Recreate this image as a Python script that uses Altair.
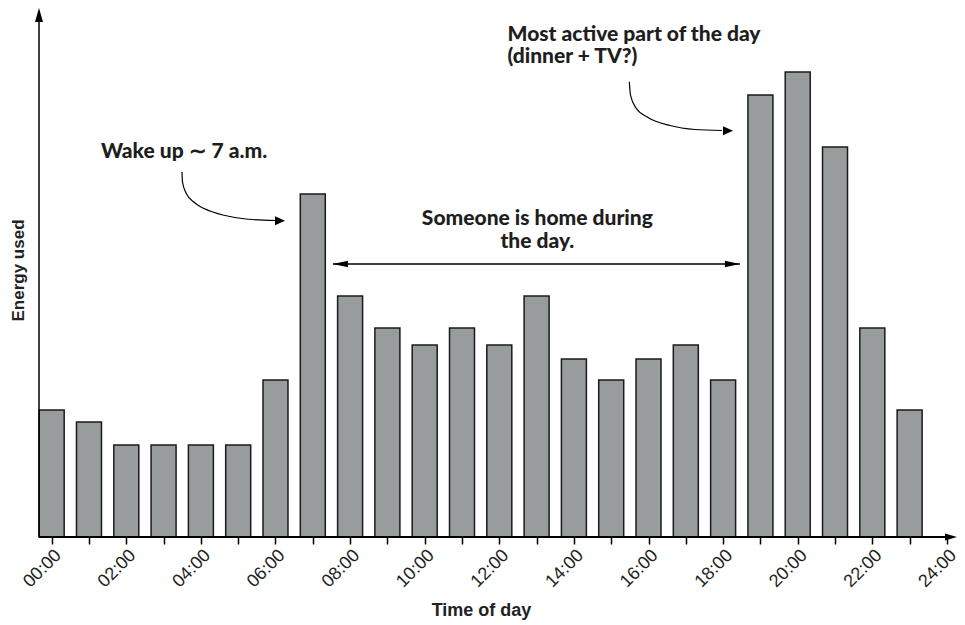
import altair as alt
import pandas as pd

# ---------------- data ----------------
HOURS = list(range(24))
ENERGY = [12.7, 11.5, 9.2, 9.2, 9.2, 9.2, 15.7, 34.3, 24.1, 20.9, 19.2, 20.9,
          19.2, 24.1, 17.8, 15.7, 17.8, 19.2, 15.7, 44.2, 46.5, 39.0, 20.9, 12.7]
TICK_HOURS = list(range(25))
TICK_LABELS = ["00:00", "", "02:00", "", "04:00", "", "06:00", "", "08:00", "",
               "10:00", "", "12:00", "", "14:00", "", "16:00", "", "18:00", "",
               "20:00", "", "22:00", "", "24:00"]

X_TITLE = "Time of day"
Y_TITLE = "Energy used"

# annotation texts and anchor points (hour, energy)
WAKE_TEXT = "Wake up ∼ 7 a.m."
WAKE_POS = (3.55, 37.9)
DINNER_TEXT = "Most active part of the day\n(dinner + TV?)"
DINNER_POS = (12.22, 49.6)
HOME_TEXT = "Someone is home during\nthe day."
HOME_POS = (13.02, 31.2)

# curved arrows (hour, energy) – path points, last point is the arrow tip
WAKE_CURVE_X = [3.493, 3.507, 3.601, 3.842, 4.244, 4.780, 5.370, 6.013]
WAKE_CURVE_Y = [36.5, 35.5, 34.4, 33.4, 32.6, 32.05, 31.75, 31.65]
WAKE_TIP = (6.255, 31.63)
DINNER_CURVE_X = [15.485, 15.517, 15.665, 15.987, 16.576, 17.247, 17.97]
DINNER_CURVE_Y = [45.53, 44.2, 42.9, 41.95, 41.15, 40.75, 40.65]
DINNER_TIP = (18.265, 40.63)

# double arrow span (hours) at energy level
HOME_SPAN = (7.54, 18.45)
HOME_LEVEL = 27.3

X_MIN, X_MAX = -0.34, 24.27
Y_MIN, Y_MAX = 0.0, 52.9
BAR_HALF = 0.335

# ---------------- scales / axes ----------------
xscale = alt.Scale(domain=[X_MIN, X_MAX], nice=False, zero=False)
yscale = alt.Scale(domain=[Y_MIN, Y_MAX], nice=False, zero=False)

label_expr = "[" + ",".join("'%s'" % t for t in TICK_LABELS) + "][datum.value]"

xaxis = alt.Axis(
    values=TICK_HOURS, labelExpr=label_expr, labelAngle=315,
    labelFont="Liberation Sans", labelFontSize=18, labelColor="#222222",
    labelOverlap=False, labelFlush=False, labelBound=False, labelPadding=2,
    domain=False, grid=False, ticks=True, tickColor="#000000", tickSize=7,
    tickWidth=1.5, title=X_TITLE, titleFont="Liberation Sans", titleFontSize=18,
    titleFontWeight="bold", titleColor="#222222", titleX=442, titleY=78,
    titleAlign="center", titleBaseline="alphabetic",
)
yaxis = alt.Axis(
    labels=False, ticks=False, domain=False, grid=False, title=Y_TITLE,
    titleFont="Liberation Sans", titleFontSize=17, titleFontWeight="bold",
    titleColor="#222222", titleAngle=270, titleX=-21, titleY=262,
    titleAlign="center", titleBaseline="middle",
)


def X(field):
    return alt.X(field, type="quantitative", scale=xscale, axis=xaxis)


def Y(field):
    return alt.Y(field, type="quantitative", scale=yscale, axis=yaxis)


# ---------------- bars ----------------
bars_df = pd.DataFrame({"hour": HOURS, "energy": ENERGY})
bars = (
    alt.Chart(bars_df)
    .transform_calculate(
        x0="datum.hour - %f" % BAR_HALF,
        x1="datum.hour + %f" % BAR_HALF,
        base="0",
    )
    .mark_bar(fill="#999c9c", stroke="#1a1a1a", strokeWidth=1.5)
    .encode(x=X("x0"), x2="x1:Q", y=Y("energy"), y2="base:Q")
)

# ---------------- axis lines with arrows ----------------
axes_df = pd.DataFrame({
    "x": [X_MIN, X_MIN], "x2": [X_MAX - 0.2, X_MIN],
    "y": [0.0, 0.0], "y2": [0.0, Y_MAX - 0.5], "w": [2.0, 1.5],
})
axis_lines = alt.Chart(axes_df).mark_rule(color="#000000").encode(
    x=X("x"), x2="x2:Q", y=Y("y"), y2="y2:Q",
    strokeWidth=alt.StrokeWidth("w:Q", scale=None),
)
xhead = alt.Chart(pd.DataFrame({"x": [X_MAX], "y": [0.0]})).mark_point(
    shape="M0,0L-2,-0.58L-2,0.58Z", filled=True, fill="#000000", size=144,
    opacity=1, strokeWidth=0,
).encode(x=X("x"), y=Y("y"))
yhead = alt.Chart(pd.DataFrame({"x": [X_MIN], "y": [Y_MAX]})).mark_point(
    shape="M0,0L-0.57,2L0.57,2Z", filled=True, fill="#000000", size=196,
    opacity=1, strokeWidth=0,
).encode(x=X("x"), y=Y("y"))

# ---------------- annotations ----------------
curve_df = pd.DataFrame({
    "x": WAKE_CURVE_X + DINNER_CURVE_X,
    "y": WAKE_CURVE_Y + DINNER_CURVE_Y,
    "id": ["wake"] * len(WAKE_CURVE_X) + ["dinner"] * len(DINNER_CURVE_X),
    "o": list(range(len(WAKE_CURVE_X))) + list(range(len(DINNER_CURVE_X))),
})
curves = alt.Chart(curve_df).mark_line(
    interpolate="monotone", color="#000000", strokeWidth=1.2
).encode(x=X("x"), y=Y("y"), detail="id:N", order="o:Q")

curve_heads = alt.Chart(pd.DataFrame({
    "x": [WAKE_TIP[0], DINNER_TIP[0]], "y": [WAKE_TIP[1], DINNER_TIP[1]],
})).mark_point(
    shape="M0,0L-2,-0.9L-2,0.9Z", filled=True, fill="#000000", size=100,
    opacity=1, strokeWidth=0,
).encode(x=X("x"), y=Y("y"))

span_df = pd.DataFrame({"x": [HOME_SPAN[0]], "x2": [HOME_SPAN[1]], "y": [HOME_LEVEL]})
span = alt.Chart(span_df).mark_rule(color="#000000", strokeWidth=1.5).encode(
    x=X("x"), x2="x2:Q", y=Y("y"))
span_right = alt.Chart(pd.DataFrame({"x": [HOME_SPAN[1]], "y": [HOME_LEVEL]})).mark_point(
    shape="M0,0L-2,-0.43L-2,0.43Z", filled=True, fill="#000000", size=225,
    opacity=1, strokeWidth=0,
).encode(x=X("x"), y=Y("y"))
span_left = alt.Chart(pd.DataFrame({"x": [HOME_SPAN[0]], "y": [HOME_LEVEL]})).mark_point(
    shape="M0,0L2,-0.43L2,0.43Z", filled=True, fill="#000000", size=225,
    opacity=1, strokeWidth=0,
).encode(x=X("x"), y=Y("y"))

center_text_df = pd.DataFrame({
    "x": [WAKE_POS[0], HOME_POS[0]], "y": [WAKE_POS[1], HOME_POS[1]],
    "t": [WAKE_TEXT, HOME_TEXT],
})
center_text = alt.Chart(center_text_df).mark_text(
    font="Lato", fontWeight=900, fontSize=21, color="#1e1e1e",
    align="center", baseline="alphabetic", lineBreak="\n", lineHeight=23,
).encode(x=X("x"), y=Y("y"), text="t:N")

left_text_df = pd.DataFrame({"x": [DINNER_POS[0]], "y": [DINNER_POS[1]], "t": [DINNER_TEXT]})
left_text = alt.Chart(left_text_df).mark_text(
    font="Lato", fontWeight=900, fontSize=21, color="#1e1e1e",
    align="left", baseline="alphabetic", lineBreak="\n", lineHeight=22,
).encode(x=X("x"), y=Y("y"), text="t:N")

chart = alt.layer(
    bars, axis_lines, xhead, yhead, curves, curve_heads, span, span_left,
    span_right, center_text, left_text,
).properties(
    width=918, height=529,
    padding={"left": 31, "top": 0, "right": 0, "bottom": 88},
    autosize=alt.AutoSizeParams(type="none"),
    background="#ffffff",
).configure_view(stroke=None)

chart.save("out.html", embed_options={"renderer": "svg", "actions": False})
